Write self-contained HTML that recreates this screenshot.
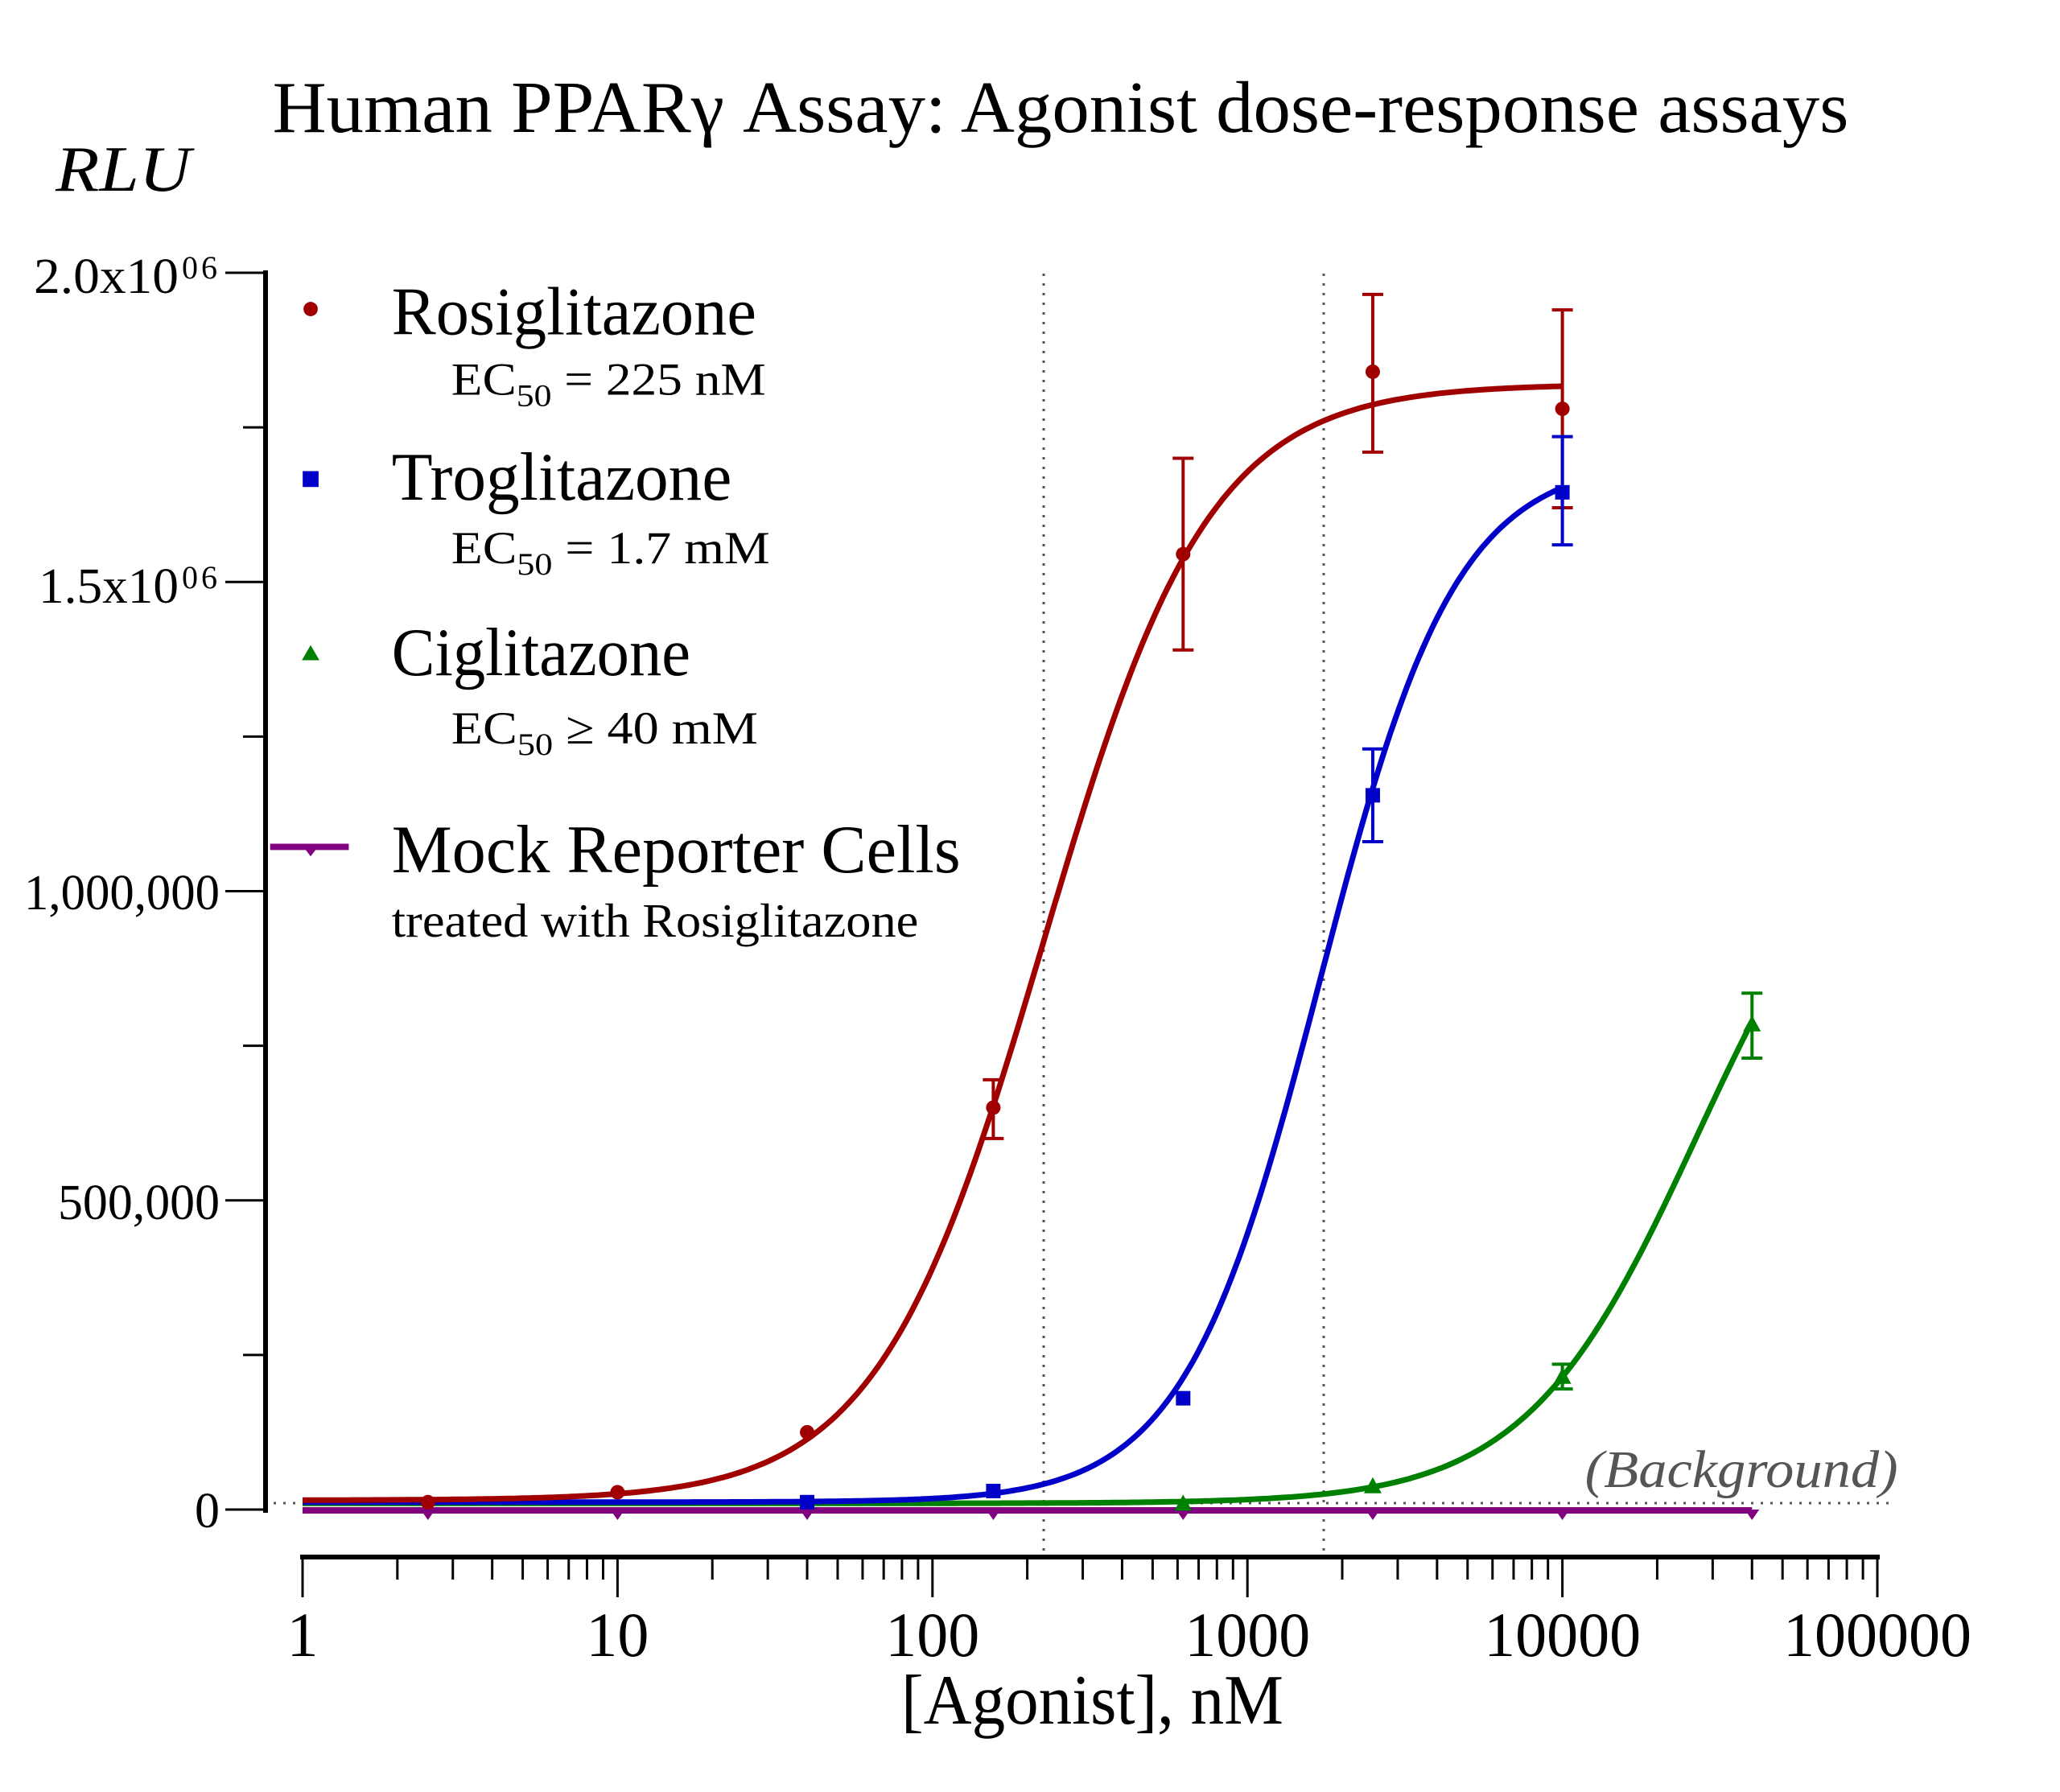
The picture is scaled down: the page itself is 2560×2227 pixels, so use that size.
<!DOCTYPE html>
<html><head><meta charset="utf-8"><style>
html,body{margin:0;padding:0;background:#fff}
svg{display:block}
text{font-family:"Liberation Serif",serif;fill:#000}
</style></head><body>
<svg id="s" width="2560" height="2227" viewBox="0 0 2560 2227" xmlns="http://www.w3.org/2000/svg">
<g transform="scale(0.9873)">
<text x="343" y="166" font-size="92" textLength="1984" lengthAdjust="spacingAndGlyphs">Human PPARγ Assay: Agonist dose-response assays</text>
<text x="70" y="240" font-size="82" font-style="italic" textLength="170" lengthAdjust="spacingAndGlyphs">RLU</text>
<text x="1995" y="1872" font-size="66" font-style="italic" style="fill:#555" textLength="394" lengthAdjust="spacingAndGlyphs">(Background)</text>
<circle cx="391" cy="389" r="9" fill="#a00000"/>
<rect x="381" y="593" width="20" height="20" fill="#0000c8"/>
<polygon points="391,812 402,831 380,831" fill="#008000"/>
<line x1="340" y1="1066" x2="439" y2="1066" stroke="#800080" stroke-width="8"/>
<polygon points="382,1066 400,1066 391,1078" fill="#800080"/>
<text x="493" y="421" font-size="86" textLength="459" lengthAdjust="spacingAndGlyphs">Rosiglitazone</text>
<text x="568" y="497" font-size="58" textLength="396" lengthAdjust="spacingAndGlyphs">EC<tspan font-size="40" dy="14">50</tspan><tspan dy="-14"> = 225 nM</tspan></text>
<text x="493" y="629" font-size="86" textLength="428" lengthAdjust="spacingAndGlyphs">Troglitazone</text>
<text x="568" y="709" font-size="58" textLength="401" lengthAdjust="spacingAndGlyphs">EC<tspan font-size="40" dy="14">50</tspan><tspan dy="-14"> = 1.7 mM</tspan></text>
<text x="493" y="850" font-size="86" textLength="376" lengthAdjust="spacingAndGlyphs">Ciglitazone</text>
<text x="568" y="936" font-size="58" textLength="386" lengthAdjust="spacingAndGlyphs">EC<tspan font-size="40" dy="14">50</tspan><tspan dy="-14"> ≥ 40 mM</tspan></text>
<text x="493" y="1098" font-size="86" textLength="716" lengthAdjust="spacingAndGlyphs">Mock Reporter Cells</text>
<text x="493" y="1179" font-size="60" textLength="663" lengthAdjust="spacingAndGlyphs">treated with Rosiglitazone</text>
</g>
<g font-size="62">
<text x="42" y="364" textLength="180" lengthAdjust="spacingAndGlyphs">2.0x10</text><text x="226" y="346" font-size="40">0</text><text x="250" y="346" font-size="40">6</text>
<text x="48" y="749" textLength="174" lengthAdjust="spacingAndGlyphs">1.5x10</text><text x="226" y="731" font-size="40">0</text><text x="250" y="731" font-size="40">6</text>
<text x="30" y="1130" textLength="243" lengthAdjust="spacingAndGlyphs">1,000,000</text>
<text x="72" y="1515" textLength="201" lengthAdjust="spacingAndGlyphs">500,000</text>
<text x="242" y="1898" textLength="31" lengthAdjust="spacingAndGlyphs">0</text>
</g>
<g id="ax" stroke="#000" fill="none"></g>
<g stroke="#555" stroke-width="3" stroke-dasharray="3,9" fill="none">
<line x1="1297" y1="340" x2="1297" y2="1935"/>
<line x1="1645" y1="340" x2="1645" y2="1935"/>
<line x1="340" y1="1868" x2="2350" y2="1868"/>
</g>
<g id="plot"></g>
<g font-size="78" text-anchor="middle" id="xl"></g>
<text x="1120" y="2142" font-size="88" textLength="475" lengthAdjust="spacingAndGlyphs">[Agonist], nM</text>
</svg>
<script>
var NS="http://www.w3.org/2000/svg";
function el(p,t,a){var e=document.createElementNS(NS,t);for(var k in a)e.setAttribute(k,a[k]);p.appendChild(e);return e;}
function X(c){return 376+391.4*Math.log10(c);}
function Y(v){return 1876-v*768.5e-6;}
var ax=document.getElementById('ax');
el(ax,'line',{x1:330,y1:336,x2:330,y2:1880,'stroke-width':6});
for(var i=0;i<=8;i++){var y=Y(i*250000);el(ax,'line',{x1:(i%2?302:280),y1:y,x2:330,y2:y,'stroke-width':3});}
el(ax,'line',{x1:373,y1:1935,x2:2336,y2:1935,'stroke-width':6});
for(var d=0;d<5;d++){for(var m=1;m<10;m++){var x=X(m*Math.pow(10,d));el(ax,'line',{x1:x,y1:1935,x2:x,y2:(m==1?1985:1963),'stroke-width':3});}}
el(ax,'line',{x1:X(1e5),y1:1935,x2:X(1e5),y2:1985,'stroke-width':3});
var xl=document.getElementById('xl');
var labs=["1","10","100","1000","10000","100000"];
for(var d=0;d<6;d++){var t=el(xl,'text',{x:X(Math.pow(10,d)),y:2058});t.textContent=labs[d];}
var plot=document.getElementById('plot');
function curve(b,T,ec,h,x0,x1,col){var s="";for(var i=0;i<=300;i++){var lc=Math.log10(x0)+(Math.log10(x1)-Math.log10(x0))*i/300;var c=Math.pow(10,lc);var v=b+(T-b)/(1+Math.pow(ec/c,h));s+=(i?"L":"M")+X(c).toFixed(1)+","+Y(v).toFixed(1);}el(plot,'path',{d:s,stroke:col,'stroke-width':7,fill:'none'});}
el(plot,'line',{x1:376,y1:1877,x2:X(40000),y2:1877,stroke:'#800080','stroke-width':8});
[2.5,10,40,156,625,2500,10000,40000].forEach(function(c){var x=X(c);el(plot,'polygon',{points:(x-9)+",1876 "+(x+9)+",1876 "+x+",1889",fill:'#800080'});});
curve(10000,1.2e6,26800,1.595,1,40000,'#008000');
curve(12000,1.7e6,1700,2,1,10000,'#0000c8');
curve(15000,1.82e6,225,1.65,1,10000,'#a00000');
function eb(c,lo,hi,col){var x=X(c);el(plot,'line',{x1:x,y1:Y(lo),x2:x,y2:Y(hi),stroke:col,'stroke-width':4});[lo,hi].forEach(function(v){el(plot,'line',{x1:x-13,y1:Y(v),x2:x+13,y2:Y(v),stroke:col,'stroke-width':4});});}
var R='#a00000',B='#0000c8',G='#008000';
[[2.5,12000],[10,28000],[40,125000],[156,650000],[625,1545000],[2500,1840000],[10000,1780000]].forEach(function(p){el(plot,'circle',{cx:X(p[0]),cy:Y(p[1]),r:9,fill:R});});
eb(156,600000,695000,R);eb(625,1390000,1700000,R);eb(2500,1710000,1965000,R);eb(10000,1620000,1940000,R);
[[40,12000],[156,30000],[625,180000],[2500,1155000],[10000,1645000]].forEach(function(p){el(plot,'rect',{x:X(p[0])-9,y:Y(p[1])-9,width:18,height:18,fill:B});});
eb(2500,1080000,1230000,B);eb(10000,1560000,1735000,B);
[[625,10000],[2500,38000],[10000,215000],[40000,785000]].forEach(function(p){var x=X(p[0]),y=Y(p[1]);el(plot,'polygon',{points:x+","+(y-11)+" "+(x+11)+","+(y+9)+" "+(x-11)+","+(y+9),fill:G});});
eb(10000,195000,235000,G);eb(40000,730000,835000,G);
</script>
</body></html>
